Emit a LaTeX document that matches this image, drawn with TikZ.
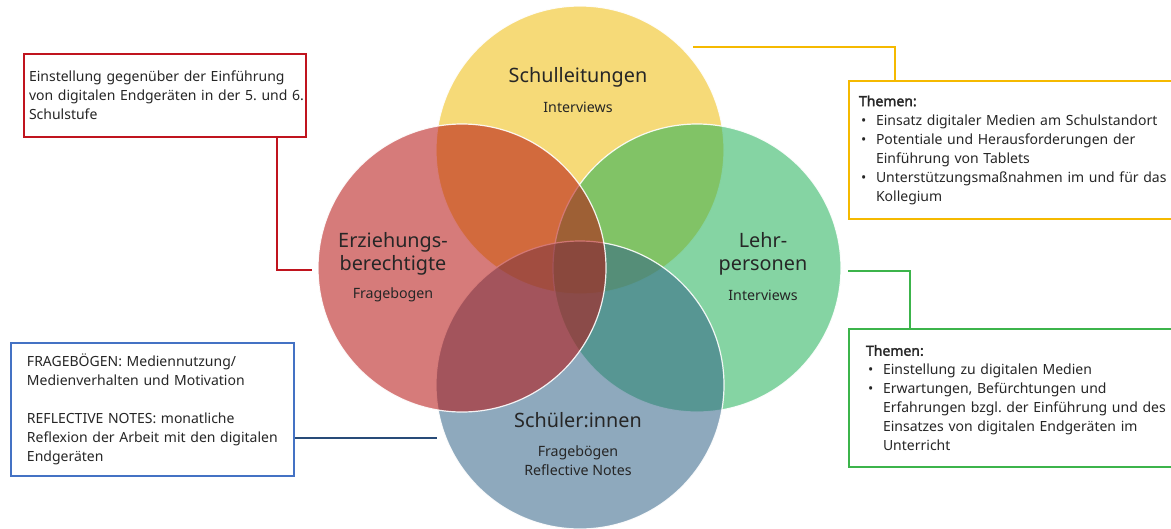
\documentclass[tikz,border=0pt]{standalone}
\usepackage{fontspec}
\setmainfont{Noto Sans}[AutoFakeBold=2.2]
\frenchspacing
\definecolor{cy}{RGB}{240,188,10}
\definecolor{cr}{RGB}{182,15,13}
\definecolor{cg}{RGB}{33,177,88}
\definecolor{cb}{RGB}{50,100,135}
\definecolor{txt}{RGB}{38,38,38}
\definecolor{lred}{RGB}{192,20,30}
\definecolor{lgold}{RGB}{245,185,0}
\definecolor{lgreen}{RGB}{60,180,75}
\definecolor{lbluebox}{RGB}{68,114,196}
\definecolor{lblue}{RGB}{40,75,120}
\newcommand{\bitem}[1]{\par\hangindent=17pt\hangafter=1\noindent\makebox[17pt][l]{\hspace{2pt}\textbullet}#1}
\newcommand{\brk}{\hfill\break}
\begin{document}
\begin{tikzpicture}[x=1pt,y=-1pt,
  venn/.style={circle, minimum size=288pt, inner sep=0pt, draw=white, line width=1.2pt, fill opacity=0.55, draw opacity=0.9},
  big/.style={font=\fontsize{19.8}{23}\selectfont, align=center, text=txt, inner sep=0pt},
  small/.style={font=\fontsize{14.2}{19}\selectfont, align=center, text=txt, inner sep=0pt},
  infobox/.style={draw, line width=2pt, anchor=north west, align=left, text=txt, font=\fontsize{14}{19}\selectfont, inner ysep=0pt},
  conn/.style={line width=1.8pt}]
\useasboundingbox (0,0) rectangle (1171,528);
\clip (0,0) rectangle (1171,528);
\fill[white] (0,0) rectangle (1171,528);
% circles
\node[venn, fill=cy] (cY) at (580,150) {};
\node[venn, fill=cg] (cG) at (697,268) {};
\node[venn, fill=cb] (cB) at (580,385) {};
\node[venn, fill=cr] (cR) at (462,268) {};
% circle labels
\node[big] (tY) at (578,77) {Schulleitungen};
\node[small] (sY) at (578,107) {Interviews};
\node[big] (tR) at (393,254) {Erziehungs-\\berechtigte};
\node[small] (sR) at (393,295) {Fragebogen};
\node[big] (tG) at (763,254) {Lehr-\\personen};
\node[small] (sG) at (763,295) {Interviews};
\node[big] (tB) at (578,420) {Schüler:innen};
\node[small] (sB) at (578,461) {Fragebögen\\Reflective Notes};
% boxes
\node[infobox, draw=lred, inner xsep=5pt, text width=272pt, minimum height=83pt] (bR) at (23,53)
  {\mbox{Einstellung gegenüber der Einführung}\\\mbox{von digitalen Endgeräten in der 5. und 6.}\\\mbox{Schulstufe}};
\node[infobox, draw=lgold, inner xsep=10pt, text width=330pt, minimum height=138pt] (bY) at (848,80)
  {\textbf{Themen:}
   \bitem{Einsatz digitaler Medien am Schulstandort}
   \bitem{Potentiale und Herausforderungen der\brk Einführung von Tablets}
   \bitem{Unterstützungsmaßnahmen im und für das\brk Kollegium}\par};
\node[infobox, draw=lgreen, inner xsep=17pt, text width=320pt, minimum height=138pt] (bG) at (848,328)
  {\textbf{Themen:}
   \bitem{Einstellung zu digitalen Medien}
   \bitem{Erwartungen, Befürchtungen und\brk Erfahrungen bzgl. der Einführung und des\brk Einsatzes von digitalen Endgeräten im\brk Unterricht}\par};
\node[infobox, draw=lbluebox, inner xsep=16pt, text width=251pt, minimum height=133pt] (bB) at (10,342)
  {\mbox{FRAGEBÖGEN: Mediennutzung/}\\\mbox{Medienverhalten und Motivation}\\[19pt]\mbox{REFLECTIVE NOTES: monatliche}\\\mbox{Reflexion der Arbeit mit den digitalen}\\\mbox{Endgeräten}};
% connectors
\coordinate (rK) at (277,270);
\coordinate (rE) at (312,270);
\draw[conn, lred] (bR.south -| rK) -- (rK) -- (rE);
\coordinate (yS) at (693,47);
\coordinate (yK) at (895,47);
\draw[conn, lgold] (yS) -- (yK) -- (yK |- bY.north);
\coordinate (gS) at (848,271);
\coordinate (gK) at (910,271);
\draw[conn, lgreen] (gS) -- (gK) -- (gK |- bG.north);
\coordinate (bE) at (437,438);
\draw[conn, lblue] (bB.east |- bE) -- (bE);
\end{tikzpicture}
\end{document}
